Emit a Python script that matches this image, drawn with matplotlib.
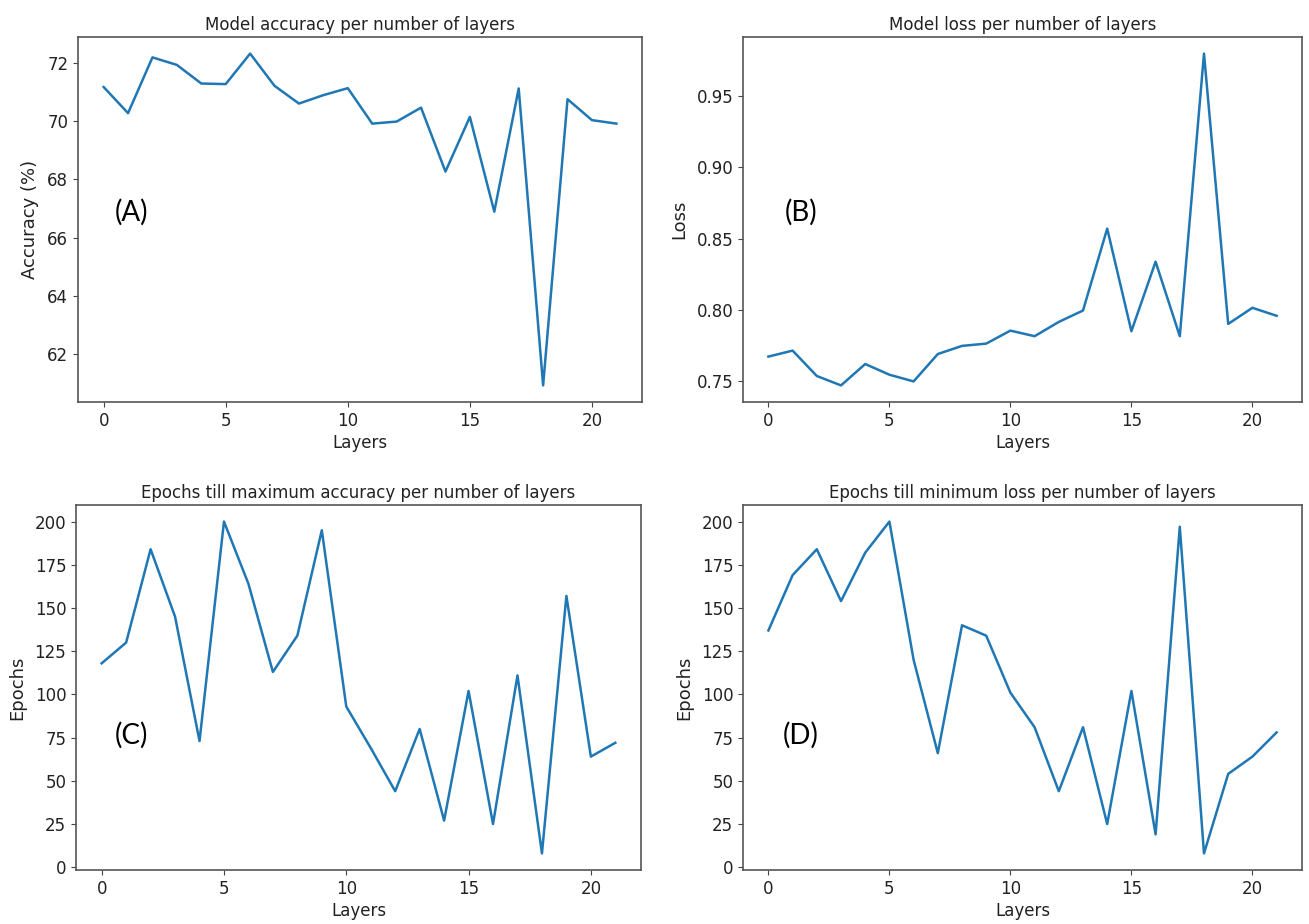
import numpy as np
import matplotlib
matplotlib.use("Agg")
import matplotlib.pyplot as plt

# % data per number of layers

layers = np.arange(22)
accuracy = [71.18, 70.28, 72.2, 71.94, 71.3, 71.28, 72.33, 71.22, 70.61, 70.9, 71.14,
            69.92, 69.99, 70.47, 68.27, 70.15, 66.89, 71.13, 60.91, 70.76, 70.04, 69.92]
loss = [0.7674, 0.7716, 0.7538, 0.7472, 0.7622, 0.7547, 0.7500, 0.7692, 0.7749, 0.7765, 0.7856,
        0.7817, 0.7917, 0.7997, 0.8571, 0.7852, 0.8339, 0.7817, 0.9798, 0.7903, 0.8016, 0.7960]
epochs_acc = [118, 130, 184, 145, 73, 200, 164, 113, 134, 195, 93,
              69, 44, 80, 27, 102, 25, 111, 8, 157, 64, 72]
epochs_loss = [137, 169, 184, 154, 182, 200, 120, 66, 140, 134, 101,
               81, 44, 81, 25, 102, 19, 197, 8, 54, 64, 78]

titles = ["Model accuracy per number of layers",
          "Model loss per number of layers",
          "Epochs till maximum accuracy per number of layers",
          "Epochs till minimum loss per number of layers"]
ylabels = ["Accuracy (%)", "Loss", "Epochs", "Epochs"]
tags = ["(A)", "(B)", "(C)", "(D)"]

# %% figure

W, H = 1309, 924
fig = plt.figure(figsize=(W / 100, H / 100), dpi=100)

# axes boxes in pixels: left, top, right, bottom
boxes = [(78, 37, 642, 402), (743, 37, 1302, 402),
         (76, 505, 641, 870), (743, 505, 1302, 870)]
tagpos = [(131, 212), (801, 212), (131, 735), (801, 735)]
series = [accuracy, loss, epochs_acc, epochs_loss]

for (l, t, r, b), data, title, ylab, tag, (tx, ty) in zip(boxes, series, titles, ylabels, tags, tagpos):
    ax = fig.add_axes([l / W, 1 - b / H, (r - l) / W, (b - t) / H])
    ax.plot(layers, data, color="#1f77b4", lw=1.8)
    ax.set_title(title, fontsize=12, color="#222222", pad=5)
    ax.set_xlabel("Layers", fontsize=12, color="#222222", labelpad=3)
    ax.set_ylabel(ylab, fontsize=13, color="#222222", labelpad=6)
    ax.tick_params(labelsize=12, labelcolor="#222222", color="#444444")
    for s in ax.spines.values():
        s.set_color("#555555")
        s.set_linewidth(1.2)
    if ylab == "Loss":
        ax.yaxis.set_major_formatter(matplotlib.ticker.FormatStrFormatter("%.2f"))
    fig.text(tx / W, 1 - ty / H, tag, fontsize=20, family=["Lato", "DejaVu Sans"],
             ha="center", va="center")

fig.savefig("out.png", dpi=100)
